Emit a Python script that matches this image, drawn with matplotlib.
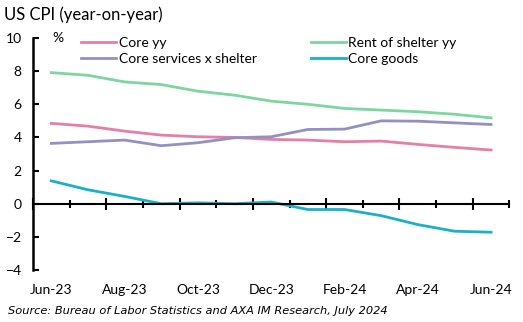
import numpy as np
import matplotlib
matplotlib.use('Agg')
import matplotlib.pyplot as plt

months = ['Jun-23', 'Jul-23', 'Aug-23', 'Sep-23', 'Oct-23', 'Nov-23', 'Dec-23',
          'Jan-24', 'Feb-24', 'Mar-24', 'Apr-24', 'May-24', 'Jun-24']
core_yy = [4.85, 4.68, 4.38, 4.14, 4.04, 4.0, 3.88, 3.84, 3.74, 3.78, 3.58, 3.4, 3.24]
core_services_x_shelter = [3.64, 3.74, 3.84, 3.5, 3.68, 3.98, 4.04, 4.48, 4.5, 5.0, 4.98, 4.88, 4.78]
rent_of_shelter = [7.91, 7.75, 7.35, 7.19, 6.79, 6.55, 6.19, 6.0, 5.75, 5.65, 5.55, 5.4, 5.18]
core_goods = [1.38, 0.84, 0.44, 0.0, 0.05, 0.0, 0.1, -0.35, -0.35, -0.72, -1.26, -1.66, -1.72]

plt.rcParams['font.family'] = ['Lato', 'DejaVu Sans']

fig = plt.figure(figsize=(5.23, 3.22), dpi=100)
ax = fig.add_axes([0.063, 0.1615, 0.911, 0.7205])

x = np.arange(len(months))
lw = 2.0
ax.plot(x, core_yy, color='#E57FA5', lw=lw, label='Core yy')
ax.plot(x, core_services_x_shelter, color='#9390C3', lw=lw, label='Core services x shelter')
ax.plot(x, rent_of_shelter, color='#7DD6A0', lw=lw, label='Rent of shelter yy')
ax.plot(x, core_goods, color='#1AB0C8', lw=lw, label='Core goods')

ax.set_xlim(-0.5, len(months) - 0.5)
ax.set_ylim(-4, 10)
ax.set_yticks(range(-4, 11, 2))
ax.tick_params(axis='y', direction='in', length=4, width=1.5, labelsize=10, pad=8)

for s in ['top', 'right']:
    ax.spines[s].set_visible(False)
ax.spines['left'].set_linewidth(1.8)
ax.spines['bottom'].set_position(('data', 0))
ax.spines['bottom'].set_linewidth(1.5)

# category boundary ticks on the zero line
bounds = np.arange(-0.5, len(months), 1.0)
ax.set_xticks(bounds[::2])
ax.set_xticks(bounds[1::2], minor=True)
ax.tick_params(axis='x', which='major', direction='inout', length=8, width=1.5, labelbottom=False)
ax.tick_params(axis='x', which='minor', direction='inout', length=6, width=1.5, labelbottom=False)

sec = ax.secondary_xaxis(0)
sec.set_xticks(x[::2])
sec.set_xticklabels(months[::2])
sec.tick_params(length=0, labelsize=10, pad=10)
sec.spines['bottom'].set_visible(False)

ax.text(0.04, 1.0, '%', transform=ax.transAxes, fontsize=10, va='center', ha='left')

ax.legend(ncol=2, loc='upper left', bbox_to_anchor=(0.075, 1.06), frameon=False,
          fontsize=10, handlelength=2.5, handletextpad=0.2, columnspacing=3.9,
          labelspacing=0.3)

fig.text(0.008, 0.953, 'US CPI (year-on-year)', fontsize=12, va='center', ha='left')
fig.text(0.015, 0.035, 'Source: Bureau of Labor Statistics and AXA IM Research, July 2024',
         fontsize=8.2, style='italic', family='DejaVu Sans', va='center', ha='left')

fig.savefig('out.png', dpi=100)
